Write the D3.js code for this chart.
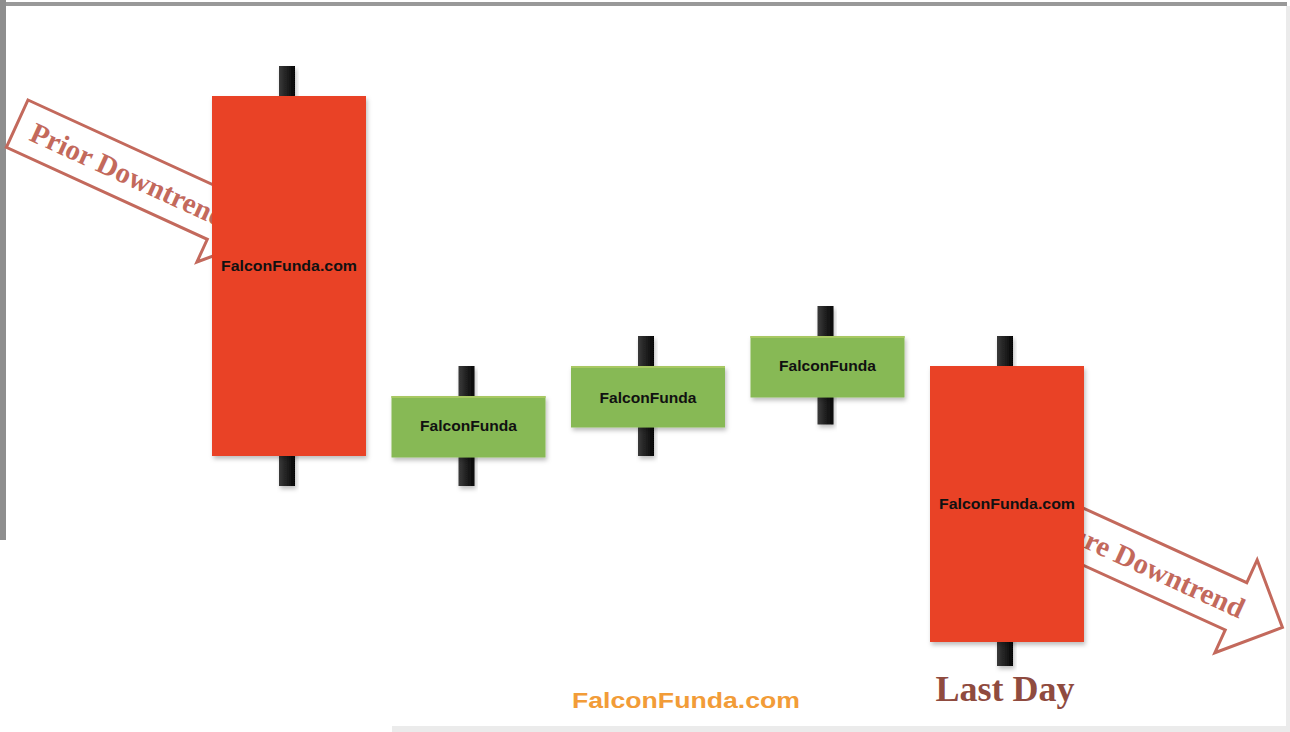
<!DOCTYPE html>
<html>
<head>
<meta charset="utf-8">
<script src="https://cdn.jsdelivr.net/npm/d3@7"></script>
<style>
  html, body { margin: 0; padding: 0; background: #ffffff; }
  svg { display: block; }
</style>
</head>
<body>
<svg id="chart" width="1290" height="732"></svg>
<script>
// ---- data ----
const days      = ["Day 1", "Day 2", "Day 3", "Day 4", "Last Day"];
const openVals  = [200, 79.5, 89.5, 99.5, 110];
const highVals  = [210, 110, 120, 130, 120];
const lowVals   = [70, 70, 80, 90.5, 10];
const closeVals = [80, 100, 110, 120, 18];
const bodyLabels = ["FalconFunda.com", "FalconFunda", "FalconFunda", "FalconFunda", "FalconFunda.com"];
const labelLevels = [143.5, 90, 99.5, 110, 64];
const trendLabels = ["Prior Downtrend", "Future Downtrend"];
const dayCaption = "Last Day";
const watermark = "FalconFunda.com";

const W = 1290, H = 732;
const svg = d3.select("#chart");

const x = d3.scalePoint().domain(days).range([287, 1005]);
const y = d3.scaleLinear().domain([0, 210]).range([696, 66]);
const bodyW = 154, wickW = 16, bodyShift = 2;

const data = days.map((d, i) => ({
  day: d, open: openVals[i], high: highVals[i], low: lowVals[i], close: closeVals[i],
  label: bodyLabels[i], labelLevel: labelLevels[i]
}));

// defs
const defs = svg.append("defs");
const wg = defs.append("linearGradient").attr("id", "wickGrad").attr("x1", "0").attr("x2", "1").attr("y1", "0").attr("y2", "0");
wg.append("stop").attr("offset", "0%").attr("stop-color", "#3a3a3a");
wg.append("stop").attr("offset", "45%").attr("stop-color", "#222");
wg.append("stop").attr("offset", "100%").attr("stop-color", "#050505");
const f = defs.append("filter").attr("id", "shadow").attr("x", "-10%").attr("y", "-10%").attr("width", "130%").attr("height", "140%");
f.append("feDropShadow").attr("dx", 1.5).attr("dy", 3).attr("stdDeviation", 2).attr("flood-color", "#000").attr("flood-opacity", 0.25);

// frame
svg.append("rect").attr("x", 1286).attr("y", 6).attr("width", 4).attr("height", H - 6).attr("fill", "#ebebeb");
svg.append("rect").attr("x", 392).attr("y", 726).attr("width", W - 392).attr("height", 6).attr("fill", "#ebebeb");
svg.append("rect").attr("x", 0).attr("y", 2).attr("width", 1287).attr("height", 4).attr("fill", "#999999");
svg.append("rect").attr("x", 0).attr("y", 0).attr("width", 6).attr("height", 540).attr("fill", "#8e8e8e");

// trend arrows (behind candles)
const arrowColor = "#c3695c";
const arrows = [
  { label: trendLabels[0], ox: 28, oy: 100, angle: 24.6 },
  { label: trendLabels[1], ox: 1045.7, oy: 491, angle: 24.5 }
];
const shaftL = 221, shaftW = 52, barb = 25, headL = 51;
const arrowPts = [[0, 0], [shaftL, 0], [shaftL, -barb], [shaftL + headL, shaftW / 2],
                  [shaftL, shaftW + barb], [shaftL, shaftW], [0, shaftW]];
const ag = svg.append("g").selectAll("g").data(arrows).join("g")
  .attr("transform", d => `translate(${d.ox},${d.oy}) rotate(${d.angle})`);
ag.append("path")
  .attr("d", d3.line()(arrowPts) + "Z")
  .attr("fill", "#ffffff")
  .attr("stroke", arrowColor)
  .attr("stroke-width", 3)
  .attr("stroke-linejoin", "miter");
ag.append("text")
  .attr("x", shaftL + 8).attr("y", 36)
  .attr("text-anchor", "end")
  .attr("font-family", "'Liberation Serif', 'Times New Roman', serif")
  .attr("font-weight", "bold")
  .attr("font-size", 29)
  .attr("fill", arrowColor)
  .text(d => d.label);

// candles
const cg = svg.append("g").selectAll("g").data(data).join("g");
cg.append("rect")
  .attr("x", d => x(d.day) - wickW / 2)
  .attr("y", d => y(d.high))
  .attr("width", wickW)
  .attr("height", d => y(d.low) - y(d.high))
  .attr("fill", "url(#wickGrad)")
  .attr("filter", "url(#shadow)");
cg.append("rect")
  .attr("x", d => x(d.day) - bodyW / 2 + bodyShift)
  .attr("y", d => y(Math.max(d.open, d.close)))
  .attr("width", bodyW)
  .attr("height", d => Math.abs(y(d.open) - y(d.close)))
  .attr("fill", d => d.close < d.open ? "#e94227" : "#87b954")
  .attr("filter", "url(#shadow)");
cg.filter(d => d.close > d.open).append("rect")
  .attr("x", d => x(d.day) - bodyW / 2 + bodyShift)
  .attr("y", d => y(d.close))
  .attr("width", bodyW)
  .attr("height", 2)
  .attr("fill", "#a8c862");
cg.append("text")
  .attr("x", d => x(d.day) + bodyShift)
  .attr("y", d => y(d.labelLevel))
  .attr("dy", "0.36em")
  .attr("text-anchor", "middle")
  .attr("font-family", "'Liberation Sans', Arial, sans-serif")
  .attr("font-weight", "bold")
  .attr("font-size", 15)
  .attr("fill", "#111")
  .attr("textLength", d => d.label.length > 12 ? 136 : 97)
  .attr("lengthAdjust", "spacingAndGlyphs")
  .text(d => d.label);

// captions
svg.append("text")
  .attr("x", x(days[4])).attr("y", 701)
  .attr("text-anchor", "middle")
  .attr("font-family", "'Liberation Serif', 'Times New Roman', serif")
  .attr("font-weight", "bold")
  .attr("font-size", 36)
  .attr("fill", "#8f4b3f")
  .text(dayCaption);

svg.append("text")
  .attr("x", 686).attr("y", 708)
  .attr("text-anchor", "middle")
  .attr("font-family", "'Liberation Sans', Arial, sans-serif")
  .attr("font-weight", "bold")
  .attr("font-size", 22)
  .attr("fill", "#f29c38")
  .attr("textLength", 228)
  .attr("lengthAdjust", "spacingAndGlyphs")
  .text(watermark);
</script>
</body>
</html>
